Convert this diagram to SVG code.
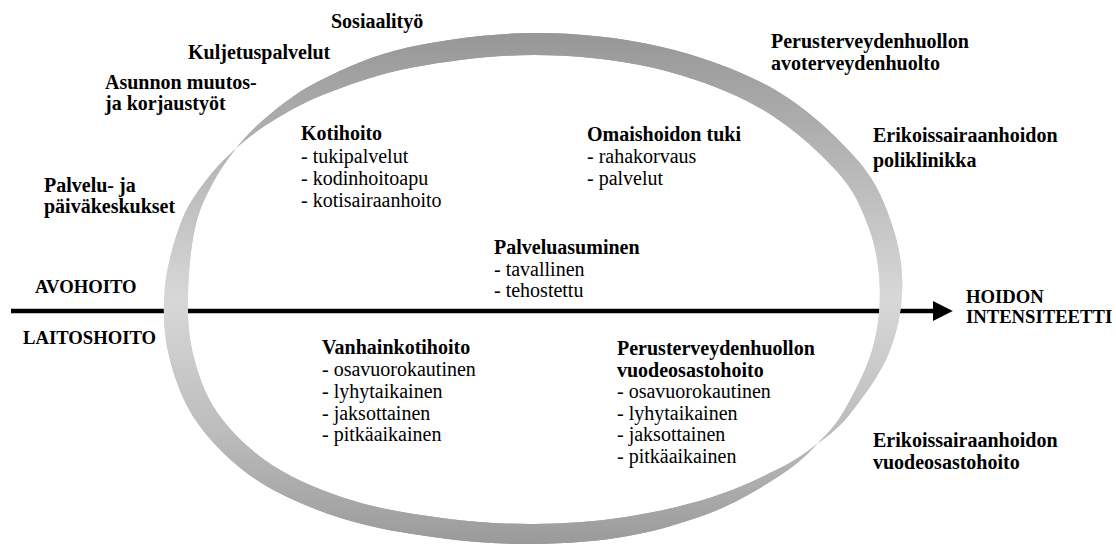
<svg xmlns="http://www.w3.org/2000/svg" width="1116" height="545" viewBox="0 0 1116 545">
<defs>
<linearGradient id="ringGrad" gradientUnits="userSpaceOnUse" x1="0" y1="33" x2="0" y2="545">
<stop offset="0" stop-color="#979797"/>
<stop offset="0.25" stop-color="#b6b6b6"/>
<stop offset="0.52" stop-color="#d8d8d8"/>
<stop offset="0.78" stop-color="#bcbcbc"/>
<stop offset="1" stop-color="#9a9a9a"/>
</linearGradient>
<pattern id="hatch" width="8" height="8" patternUnits="userSpaceOnUse" patternTransform="rotate(35)">
<line x1="0" y1="0" x2="0" y2="8" stroke="#ffffff" stroke-width="0.7" stroke-opacity="0.45"/>
</pattern>
<marker id="arrowHead" markerWidth="5" markerHeight="5" refX="0" refY="2.2" orient="auto" markerUnits="strokeWidth">
<path d="M0,0 L4.4,2.2 L0,4.4 Z" fill="#000"/>
</marker>
</defs>
<style>
text { font-family: "Liberation Serif", "Times New Roman", serif; fill: #000; }
.b { font-size: 20px; font-weight: bold; }
.r { font-size: 20px; }
.s { font-size: 18.67px; font-weight: bold; }
</style>
<rect width="1116" height="545" fill="#fff"/>

<g id="connectors">
<line x1="11" y1="311" x2="933" y2="311" stroke="#000" stroke-width="4.5" marker-end="url(#arrowHead)"/>
</g>

<g id="ring">
<path id="ringShape" fill-rule="evenodd" fill="url(#ringGrad)" d="M902.2,289 C901.69,311.07 896.97,333.88 888.18,354.8 C879.39,375.72 861.26,399.69 849.46,414.51 C837.66,429.33 829.11,434.68 817.36,443.69 C805.61,452.7 796.71,459.63 778.98,468.59 C761.25,477.55 736.76,489.33 710.97,497.43 C685.18,505.53 653.74,512.78 624.24,517.21 C594.74,521.64 564.15,523.84 534,524 C503.85,524.16 473.42,522.03 443.33,518.16 C413.24,514.29 381.81,509.56 353.44,500.81 C325.07,492.06 295.82,480.32 273.14,465.64 C250.46,450.96 230.83,431.85 217.35,412.72 C203.87,393.59 197.12,371.49 192.25,350.87 C187.38,330.25 187.67,309.59 188.16,289 C188.65,268.41 191.35,244.45 195.17,227.31 C198.99,210.17 204.29,199.33 211.09,186.18 C217.89,173.03 226.02,160.51 235.95,148.42 C245.88,136.33 256.29,125.13 270.66,113.64 C285.03,102.15 299.37,90.47 322.19,79.46 C345.01,68.45 372.29,55.31 407.59,47.57 C442.89,39.83 491.82,33.125 534,33 C576.18,32.875 620.62,37.39 660.69,46.82 C700.76,56.25 741.73,70.81 774.4,89.56 C807.07,108.31 837.22,137.18 856.69,159.32 C876.16,181.46 883.64,200.77 891.23,222.38 C898.82,243.99 902.71,266.93 902.2,289 Z M879.8,289 C880.31,309.36 878.07,330.11 872.07,350.49 C866.07,370.87 852.95,395.73 843.83,411.26 C834.71,426.79 827.46,433.37 817.36,443.69 C807.26,454.01 799.79,462.15 783.24,473.15 C766.69,484.15 743.72,499.25 718.05,509.7 C692.38,520.15 659.92,530.15 629.24,535.87 C598.56,541.59 565.86,543.7 534,544 C502.14,544.3 469.93,541.87 438.11,537.67 C406.29,533.47 373.1,528.25 343.07,518.78 C313.04,509.31 282.1,496.66 257.93,480.84 C233.76,465.02 212.86,444.49 198.08,423.85 C183.3,403.21 174.82,379.51 169.27,357.03 C163.72,334.55 162.87,311.27 164.76,289 C166.65,266.73 174.03,241.08 180.59,223.4 C187.15,205.72 194.89,195.42 204.12,182.92 C213.35,170.42 223.96,159.1 235.95,148.42 C247.94,137.74 260.23,128.29 276.05,118.85 C291.87,109.41 307.73,100.43 330.84,91.81 C353.95,83.19 380.85,73.26 414.71,67.12 C448.57,60.98 494.28,54.875 534,55 C573.72,55.125 615.48,59.1 653.02,67.87 C690.56,76.64 728.63,90.46 759.23,107.64 C789.83,124.82 818.3,150.8 836.6,170.92 C854.9,191.04 861.81,208.65 869.01,228.33 C876.21,248.01 879.29,268.64 879.8,289 Z"/>
<use href="#ringShape" fill="url(#hatch)" fill-rule="evenodd"/>
</g>

<g id="n-sosiaalityo"><text class="b" x="331" y="28">Sosiaalityö</text></g>
<g id="n-kuljetus"><text class="b" x="188" y="59">Kuljetuspalvelut</text></g>
<g id="n-asunnon"><text class="b" x="105" y="89">Asunnon muutos-</text><text class="b" x="105" y="110">ja korjaustyöt</text></g>
<g id="n-palvelukeskus"><text class="b" x="44" y="192">Palvelu- ja</text><text class="b" x="44" y="213">päiväkeskukset</text></g>
<g id="n-kotihoito"><text class="b" x="301" y="140">Kotihoito</text><text class="r" x="301" y="163">- tukipalvelut</text><text class="r" x="301" y="185">- kodinhoitoapu</text><text class="r" x="301" y="207">- kotisairaanhoito</text></g>
<g id="n-omaishoito"><text class="b" x="587" y="141">Omaishoidon tuki</text><text class="r" x="587" y="163">- rahakorvaus</text><text class="r" x="587" y="185">- palvelut</text></g>
<g id="n-perusavo"><text class="b" x="771" y="48">Perusterveydenhuollon</text><text class="b" x="771" y="70">avoterveydenhuolto</text></g>
<g id="n-erikoispoli"><text class="b" x="873" y="142">Erikoissairaanhoidon</text><text class="b" x="873" y="167">poliklinikka</text></g>
<g id="n-palveluasuminen"><text class="b" x="494" y="254">Palveluasuminen</text><text class="r" x="494" y="276">- tavallinen</text><text class="r" x="494" y="297">- tehostettu</text></g>
<g id="n-avohoito"><text class="s" x="35" y="293">AVOHOITO</text></g>
<g id="n-laitoshoito"><text class="s" x="23" y="344">LAITOSHOITO</text></g>
<g id="n-intensiteetti"><text class="s" x="966" y="303">HOIDON</text><text class="s" x="966" y="323">INTENSITEETTI</text></g>
<g id="n-vanhainkoti"><text class="b" x="322" y="354">Vanhainkotihoito</text><text class="r" x="322" y="376">- osavuorokautinen</text><text class="r" x="322" y="398">- lyhytaikainen</text><text class="r" x="322" y="420">- jaksottainen</text><text class="r" x="322" y="441">- pitkäaikainen</text></g>
<g id="n-perusvuode"><text class="b" x="617" y="355">Perusterveydenhuollon</text><text class="b" x="617" y="377">vuodeosastohoito</text><text class="r" x="617" y="398">- osavuorokautinen</text><text class="r" x="617" y="420">- lyhytaikainen</text><text class="r" x="617" y="441">- jaksottainen</text><text class="r" x="617" y="463">- pitkäaikainen</text></g>
<g id="n-erikoisvuode"><text class="b" x="873" y="447">Erikoissairaanhoidon</text><text class="b" x="873" y="469">vuodeosastohoito</text></g>
</svg>
